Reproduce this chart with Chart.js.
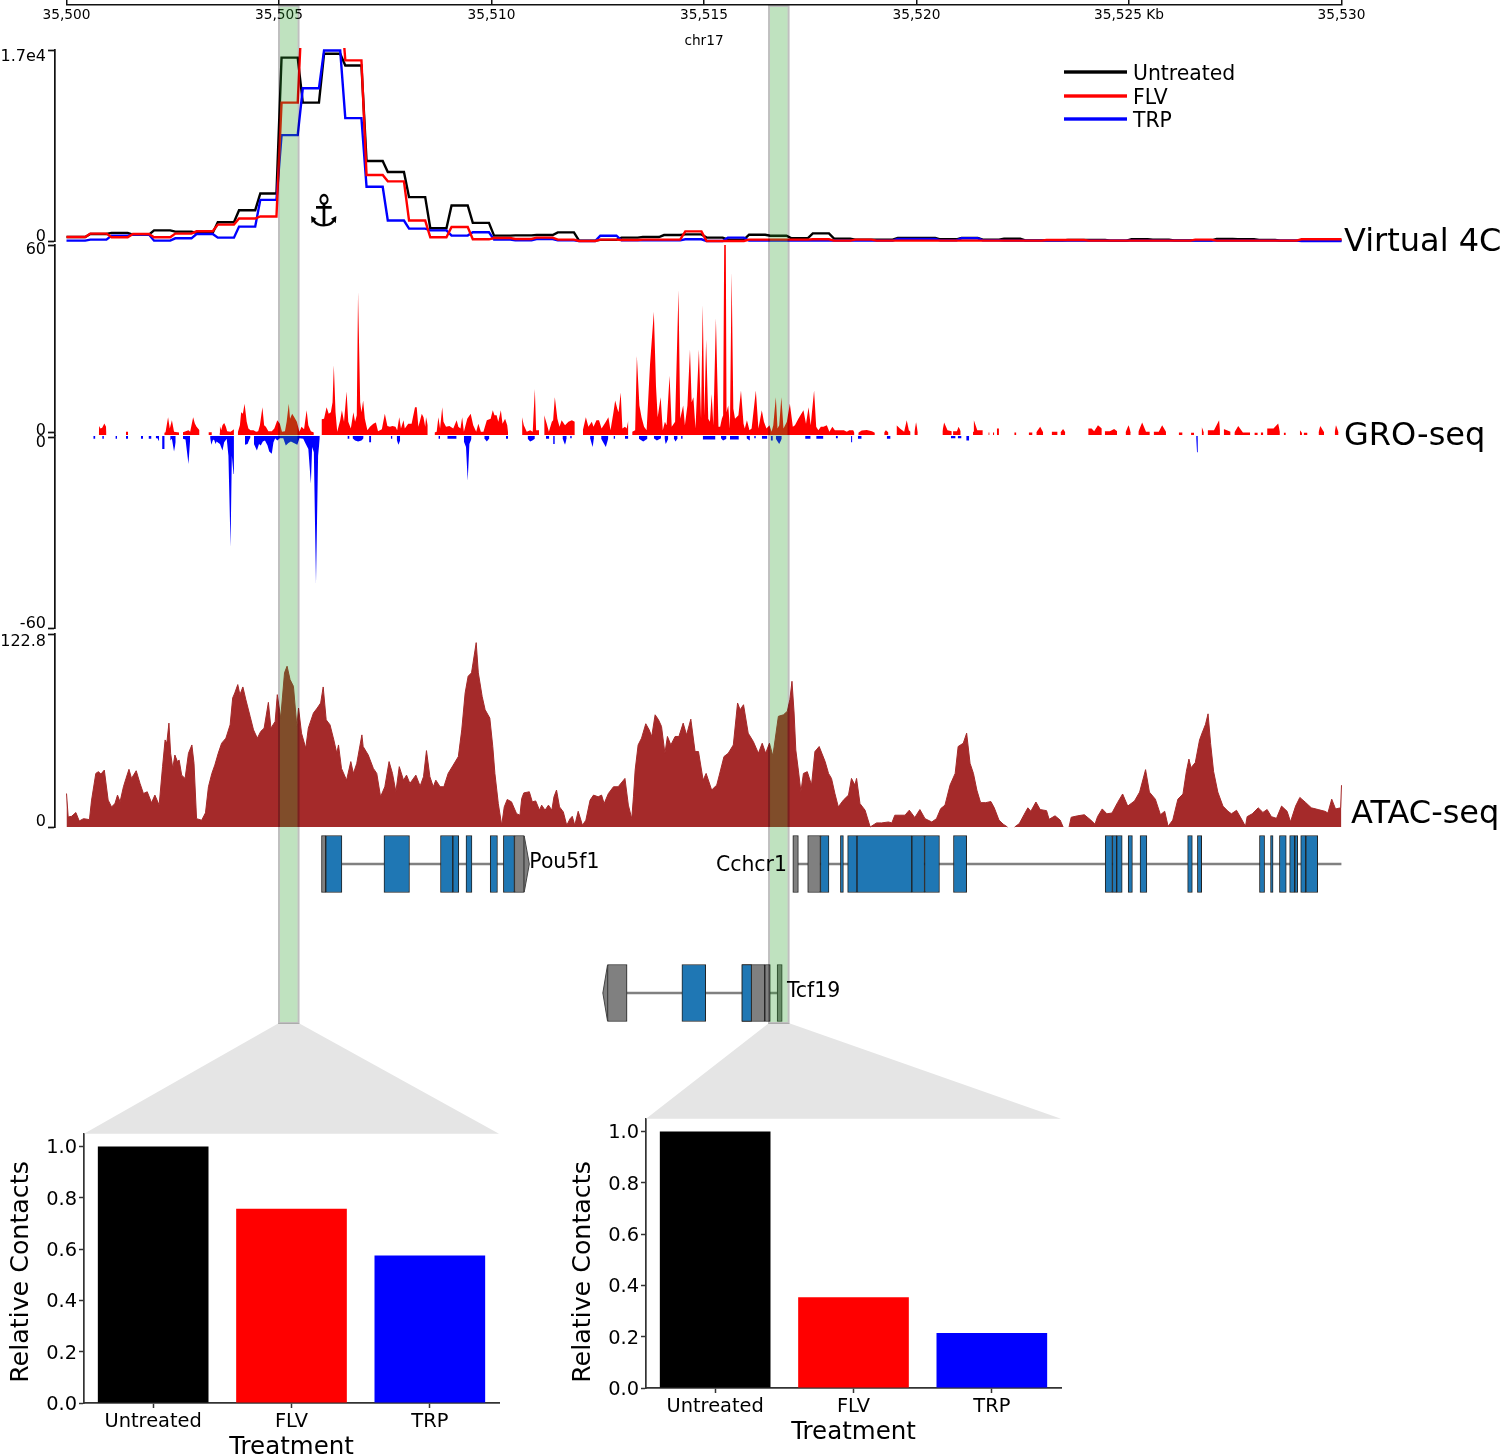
<!DOCTYPE html>
<html>
<head>
<meta charset="utf-8">
<title>Virtual 4C</title>
<script src="https://cdn.jsdelivr.net/npm/chart.js@4/dist/chart.umd.js"></script>
<style>
    body { margin: 0; background: #fff; }
    #fig { position: relative; width: 1500px; height: 1455px; overflow: hidden; }
    #fig canvas { position: absolute; }
</style>
</head>
<body>
<div id="fig"></div>
<script>
'use strict';

// x values below are kb past the start of the region
let regionStart = 35500;
let regionEnd = 30;
let binKb = 0.5;

let treatments = ['Untreated', 'FLV', 'TRP'];
let treatmentColors = ['#000000', '#ff0000', '#0000ff'];

// virtual 4C, one value per 0.5 kb bin
let v4cUntreated = [
    360, 620, 720, 570, 950, 835, 720, 1670, 2740, 4230,
    16320, 12320, 16660, 15620, 7120, 6140, 3905, 1130, 3160, 1610,
    480, 500, 530, 770, 30, 100, 300, 355, 530, 590,
    300, 120, 560, 470, 240, 680, 210, 120, 120, 270,
    270, 150, 270, 120, 200, 60, 60, 90, 90, 30,
    150, 120, 60, 60, 180, 150, 100, 30, 60, 60
];
let v4cFlv = [
    360, 660, 330, 620, 330, 660, 865, 1460, 2000, 2180,
    12320, 22000, 22000, 16080, 5870, 5310, 1820, 330, 1250, 150,
    270, 180, 300, 120, 0, 120, 90, 120, 120, 860,
    0, 0, 120, 120, 120, 150, 30, 120, 30, 30,
    30, 30, 30, 30, 30, 30, 90, 90, 30, 30,
    30, 30, 30, 120, 30, 30, 30, 30, 150, 150
];
let v4cTrp = [
    30, 120, 480, 570, 30, 240, 620, 300, 1280, 3660,
    9420, 13590, 16960, 10940, 4830, 1820, 1100, 950, 480, 780,
    120, 60, 180, 60, 0, 470, 60, 60, 60, 150,
    0, 300, 30, 30, 30, 30, 30, 30, 30, 180,
    180, 60, 240, 60, 30, 30, 30, 30, 30, 30,
    30, 30, 30, 30, 30, 30, 30, 30, 0, 0
];

// GRO-seq plus strand, [kb, signal], null starts a gap
let groPlus = [
    [.76, 0], [.77, 2.2], [.80, 1.4], [.84, 1.6], [.89, 3], [.93, 1.9], [.94, 0], [.95, null],
    [1.40, .3], [1.45, .3], [1.46, null],
    [2.30, 0], [2.33, .2], [2.39, 5], [2.43, 1.4], [2.48, 4], [2.53, .3], [2.65, .1], [2.66, null],
    [2.74, .2], [2.87, .8], [2.91, .3], [2.98, 5], [3.02, 3], [3.06, 1.9], [3.13, .8], [3.14, null],
    [3.34, .2], [3.42, .2], [3.43, null],
    [3.60, 0], [3.61, 2.2], [3.64, .8], [3.67, 2.4], [3.71, 3.1], [3.75, 1.9], [3.78, .5], [3.86, .3], [3.91, .8], [3.94, 1.1], [3.95, null],
    [4.03, .1], [4.08, 2.4], [4.11, 6.6], [4.15, 6.1], [4.19, 9.3], [4.24, 3.5], [4.28, 1.4], [4.33, .8], [4.40, .8], [4.46, .3],
    [4.51, .5], [4.55, 2.4], [4.61, 8.2], [4.65, 2.4], [4.69, 1.9], [4.75, .5], [4.83, .5], [4.89, 1.4], [4.96, 4], [5.02, 2.9],
    [5.07, .3], [5.14, .5], [5.18, 3.5], [5.23, 9.3], [5.26, 4.5], [5.31, 6.1], [5.36, 5], [5.42, 3.5], [5.48, .3], [5.53, 1.9],
    [5.59, 1.1], [5.65, 7.2], [5.69, 2.4], [5.75, .5], [5.82, .1], [5.83, null],
    [6.00, 4.3], [6.06, 4.5], [6.12, 8.2], [6.17, 6.1], [6.22, 6.6], [6.26, 9.8], [6.29, 21.6], [6.33, 6.6], [6.37, .3], [6.44, 4],
    [6.48, 7.2], [6.53, 3.5], [6.59, 13.2], [6.63, 3.5], [6.69, 1.4], [6.75, 6.6], [6.79, 3.5], [6.83, 5.6], [6.86, 45], [6.91, 9.8],
    [6.94, 6.6], [6.98, 10.3], [7.02, 4.5], [7.08, .8], [7.14, 1.9], [7.22, 2.9], [7.28, 3.3], [7.33, .5], [7.42, 1.1], [7.49, 6.1],
    [7.55, 2.2], [7.61, 1.9], [7.67, 2.2], [7.74, 1.9], [7.78, .8], [7.83, 5], [7.87, 1.4], [7.93, 4], [7.96, 1.4], [8.04, 2.9],
    [8.12, 2.9], [8.20, 8.2], [8.24, 8.2], [8.28, 1.9], [8.36, 6.1], [8.40, 5], [8.44, 1.9], [8.46, 5], [8.50, 2.4], [8.51, null],
    [8.66, .1], [8.71, .3], [8.75, 5], [8.79, 1.4], [8.84, 8.2], [8.87, 3.5], [8.93, 1.9], [9.01, 2.2], [9.10, 1.4], [9.18, 4],
    [9.22, 1.9], [9.27, 1.4], [9.31, 5], [9.35, .3], [9.43, 4.5], [9.51, 6.1], [9.57, 2.4], [9.64, .3], [9.69, 2.9], [9.75, .3],
    [9.81, .3], [9.89, 4], [9.98, 4.5], [10.03, 7.2], [10.07, 5.6], [10.12, 5.6], [10.16, 3.5], [10.22, 7.2], [10.26, 2.9], [10.32, 4.5],
    [10.37, 2.4], [10.39, 0], [10.40, null],
    [10.72, 5], [10.76, 2.4], [10.83, .3], [10.91, .8], [10.97, .3], [11.02, 14], [11.05, .8], [11.12, .8], [11.13, null],
    [11.24, 5.6], [11.30, 2.9], [11.35, .3], [11.42, 3.5], [11.45, 4], [11.49, 11.4], [11.55, 4.5], [11.60, 1.9], [11.65, 4], [11.73, 2.4],
    [11.81, 3.5], [11.89, 4], [11.96, 3.5], [11.97, null],
    [12.15, .8], [12.22, 5], [12.28, 1.9], [12.36, 3.5], [12.40, 1.9], [12.47, 4], [12.53, 4], [12.59, 1.4], [12.69, 3.5], [12.75, 5],
    [12.80, .8], [12.87, 6.6], [12.91, 10.3], [12.96, 7.7], [12.99, 6.6], [13.04, 12.9], [13.08, 1.4], [13.14, 1.9], [13.18, 1.4], [13.22, 4], [13.23, null],
    [13.31, .3], [13.38, .8], [13.42, 24.5], [13.48, 8.7], [13.53, 5], [13.59, 1.9], [13.65, .8], [13.73, 21.9], [13.82, 38.7], [13.87, 15],
    [13.91, 5], [13.98, 11.4], [14.03, .8], [14.08, 3.5], [14.12, 2.4], [14.19, 18.2], [14.24, 1.9], [14.32, 3.5], [14.40, 45.6], [14.44, 4.5],
    [14.51, 8.7], [14.55, 2.4], [14.61, 8.7], [14.67, 26.6], [14.71, 9.8], [14.75, 11.4], [14.80, 1.4], [14.88, 26.6], [14.93, 4.5], [14.97, 40.8],
    [15.01, 5.6], [15.05, 29.8], [15.10, 4.5], [15.14, 3.5], [15.18, 12.4], [15.22, 2.4], [15.28, 36.6], [15.34, 1.9], [15.38, 1.9], [15.42, 4.5],
    [15.45, 5.6], [15.48, 70], [15.51, 70], [15.53, 6.6], [15.57, 8.7], [15.61, 1.4], [15.65, 51.4], [15.69, 7.7], [15.73, 4.5], [15.81, 5.6],
    [15.87, 13.5], [15.93, 2.9], [15.96, 1.4], [16.01, 4], [16.07, .8], [16.12, 1.4], [16.22, 13.5], [16.28, 1.4], [16.36, 7.2], [16.41, 3.5],
    [16.47, 1.4], [16.54, 2.4], [16.59, .3], [16.63, 2.4], [16.69, 11.4], [16.73, 1.4], [16.77, 2.4], [16.82, 11.4], [16.87, 1.4], [16.95, 3.5],
    [17.02, 9.3], [17.09, 1.9], [17.14, 2.4], [17.22, 4.5], [17.34, 7.2], [17.40, 2.9], [17.46, 8.2], [17.51, 2.4], [17.59, 13.5], [17.64, 1.9],
    [17.69, .8], [17.75, 1.9], [17.81, 1.9], [17.89, 2.4], [17.95, .3], [18.02, 1.9], [18.08, .8], [18.20, .8], [18.29, .8], [18.36, .3],
    [18.42, .8], [18.51, .8], [18.54, 0], [18.55, null],
    [18.63, 0], [18.71, .7], [18.83, .9], [18.95, .5], [19.02, 0], [19.03, null],
    [19.24, .1], [19.28, .8], [19.34, .1], [19.35, null],
    [19.53, 2.4], [19.61, 1.4], [19.71, .3], [19.77, 4], [19.82, .8], [19.86, .3], [19.87, null],
    [19.95, .2], [19.99, 3.4], [20.03, .2], [20.04, null],
    [20.61, .5], [20.65, 3.3], [20.73, .8], [20.83, .5], [20.84, null],
    [20.86, .5], [20.95, .5], [20.99, 1.9], [21.04, .5], [21.05, null],
    [21.33, .3], [21.35, 4], [21.43, .8], [21.56, .8], [21.57, null],
    [21.69, .1], [21.72, .1], [21.73, null], [21.80, .1], [21.83, .1], [21.84, null],
    [21.89, 1.4], [21.94, 1.4], [21.95, null],
    [22.30, .1], [22.35, .1], [22.36, null],
    [22.64, .1], [22.73, .1], [22.74, null],
    [22.82, .2], [22.91, 1.9], [22.98, .2], [22.99, null],
    [23.18, .3], [23.32, .3], [23.33, null],
    [23.39, .2], [23.45, 1.2], [23.50, .2], [23.51, null],
    [24.04, 1.4], [24.12, 1.4], [24.18, .5], [24.27, 2.4], [24.36, 1.4], [24.37, null],
    [24.43, .5], [24.55, .5], [24.65, 1.2], [24.72, .5], [24.73, null],
    [24.92, .2], [24.99, 2.4], [25.04, .2], [25.05, null],
    [25.22, .3], [25.31, 3.3], [25.40, .3], [25.49, .3], [25.50, null],
    [25.58, .3], [25.70, .3], [25.78, 2.4], [25.87, .3], [25.88, null],
    [26.17, .1], [26.26, .1], [26.27, null],
    [26.46, 0], [26.53, 0], [26.54, null],
    [26.71, 1.9], [26.76, .2], [26.77, null],
    [26.85, .8], [27.00, .8], [27.12, 4], [27.14, .8], [27.15, null],
    [27.23, 1.2], [27.39, .3], [27.40, null],
    [27.48, .1], [27.57, 2.2], [27.68, .1], [27.85, .1], [27.86, null],
    [27.95, 0], [28.03, 0], [28.04, null],
    [28.10, .1], [28.16, .1], [28.17, null],
    [28.25, 1.4], [28.40, 1.4], [28.51, 3], [28.55, .3], [28.56, null],
    [28.64, 0], [28.69, 0], [28.70, null],
    [29.02, .8], [29.07, 0], [29.08, null],
    [29.11, 0], [29.20, 0], [29.21, null],
    [29.46, .2], [29.50, 2.2], [29.59, .2], [29.60, null],
    [29.84, .2], [29.87, 2.4], [29.93, .2]
];

// GRO-seq minus strand
let groMinus = [
    [.63, -.3], [.68, -.3], [.69, null],
    [.84, -.3], [.88, -.3], [.89, null],
    [1.15, -.3], [1.19, -.3], [1.20, null],
    [1.40, -.3], [1.45, -.3], [1.46, null],
    [1.75, -.3], [1.80, -.3], [1.81, null],
    [1.93, -.3], [2.00, -.3], [2.01, null],
    [2.10, -.1], [2.14, -.1], [2.18, -1.1], [2.19, null],
    [2.25, -3.5], [2.31, -3.5], [2.32, null],
    [2.44, -.8], [2.48, -.3], [2.53, -4.3], [2.57, -1.4], [2.58, null],
    [2.74, -.3], [2.80, -.5], [2.87, -8.2], [2.91, -.3], [2.92, null],
    [3.38, -.1], [3.41, -2.2], [3.44, -.8], [3.47, -.5], [3.51, -1.9], [3.53, -1.1], [3.61, -1.9], [3.67, -4], [3.71, -1.4], [3.77, -.3],
    [3.81, -5.6], [3.86, -34.5], [3.89, -5.6], [3.93, -11.4], [3.94, 0], [3.95, null],
    [4.20, -2.2], [4.26, -1.9], [4.31, -.3], [4.33, 0], [4.34, null],
    [4.41, -1.9], [4.48, -4], [4.53, -1.9], [4.57, -2.4], [4.62, -1.1], [4.67, -.8], [4.73, -2.4], [4.77, -4.3], [4.83, -5], [4.87, -1.4],
    [4.91, -.1], [4.96, -.8], [5.02, -.1], [5.10, -.1], [5.16, -2.4], [5.22, -1.6], [5.28, -1.1], [5.35, -1.6], [5.43, -2.2], [5.48, -.1],
    [5.57, -.3], [5.63, -1.9], [5.69, -3.5], [5.75, -14.5], [5.78, -2.9], [5.82, -4.5], [5.87, -46.1], [5.92, -5.6], [5.96, 0], [5.97, null],
    [6.61, -.3], [6.66, -.3], [6.67, null],
    [6.73, -.1], [6.79, -.8], [6.86, -1.1], [6.94, -.8], [6.99, -.1], [7.00, null],
    [7.12, -1.4], [7.17, -1.4], [7.18, null],
    [7.63, -.3], [7.67, -.3], [7.68, null],
    [7.77, -.5], [7.81, -2.2], [7.85, -.8], [7.86, null],
    [8.75, -.3], [8.79, -.3], [8.80, null],
    [8.96, -.3], [9.18, -.3], [9.19, null],
    [9.35, -1.1], [9.40, -2.9], [9.44, -13.5], [9.48, -1.9], [9.53, -.3], [9.54, null],
    [9.83, -.1], [9.89, -1.1], [9.95, -.1], [9.96, null],
    [10.34, -.3], [10.39, -.3], [10.40, null],
    [10.85, -.3], [10.91, -1.1], [10.96, -.8], [11.02, -.3], [11.03, null],
    [11.28, -.3], [11.36, -.3], [11.37, null],
    [11.45, -1.9], [11.49, -1.9], [11.50, null],
    [11.67, -.1], [11.73, -2.2], [11.77, -.1], [11.78, null],
    [11.85, -.1], [11.89, -.1], [11.90, null],
    [12.32, -.1], [12.38, -2.9], [12.41, -.1], [12.42, null],
    [12.58, -.3], [12.69, -2.9], [12.75, 0], [12.76, null],
    [12.87, -.3], [12.91, -.3], [12.92, null],
    [13.14, -.3], [13.22, -.3], [13.23, null],
    [13.47, -.3], [13.57, -1.1], [13.67, -.3], [13.68, null],
    [13.82, -.1], [13.89, -.8], [13.99, -.1], [14.00, null],
    [14.07, -.1], [14.10, -1.9], [14.16, -.3], [14.17, null],
    [14.29, -.1], [14.33, -1.1], [14.38, -.1], [14.39, null],
    [14.46, -.3], [14.50, -.3], [14.51, null],
    [14.97, -.5], [15.27, -.5], [15.28, null],
    [15.40, -.1], [15.45, -.8], [15.53, -.3], [15.54, null],
    [15.61, -.5], [15.82, -.5], [15.83, null],
    [16.00, -.1], [16.08, -.8], [16.09, null],
    [16.18, -.1], [16.22, -.1], [16.23, null],
    [16.36, -.3], [16.49, -.3], [16.50, null],
    [16.57, -.8], [16.62, -.8], [16.63, null],
    [16.69, -.3], [16.77, -1.9], [16.83, -.3], [16.84, null],
    [17.38, -.3], [17.51, -.3], [17.52, null],
    [17.64, -.3], [17.81, -.3], [17.82, null],
    [18.10, -.1], [18.15, -.1], [18.16, null],
    [18.46, -1.4], [18.49, -1.4], [18.50, null],
    [18.62, -.3], [18.71, -.3], [18.72, null],
    [19.30, -.3], [19.39, -.3], [19.40, null],
    [20.81, -.1], [20.92, -.1], [20.93, null],
    [20.97, -.1], [21.06, -.1], [21.07, null],
    [21.17, -.8], [21.24, -.8], [21.25, null],
    [26.58, -.1], [26.60, -4.5], [26.62, -.1]
];

// ATAC-seq
let atac = [
    [0, 21.3], [.04, 6.4], [.12, 6.8], [.22, 9.2], [.30, 3.8], [.40, 5.3], [.54, 4.7], [.59, 17.1], [.69, 34.1], [.75, 35.2],
    [.81, 33.7], [.89, 36.2], [.98, 17.1], [1.06, 12.8], [1.14, 14.9], [1.20, 20.3], [1.26, 16], [1.34, 25.6], [1.40, 30.9], [1.47, 36.7],
    [1.53, 30.9], [1.64, 35.8], [1.73, 27.7], [1.81, 21.3], [1.90, 22.4], [2.00, 15.4], [2.08, 20.3], [2.18, 13.9], [2.26, 38.4], [2.32, 55.4],
    [2.36, 53.3], [2.41, 66.1], [2.45, 46.9], [2.50, 37.3], [2.55, 45.8], [2.61, 41.6], [2.65, 42.6], [2.71, 33], [2.79, 30.9], [2.87, 46.9],
    [2.95, 52.2], [3.00, 40.5], [3.06, 5.3], [3.18, 4.3], [3.27, 9], [3.34, 25.6], [3.42, 34.1], [3.49, 39.4], [3.57, 46.9], [3.65, 53.3],
    [3.75, 56.5], [3.85, 65], [3.91, 82.1], [3.96, 85.3], [4.03, 90.6], [4.08, 84.2], [4.15, 89.1], [4.22, 81], [4.32, 70.4], [4.40, 61.8],
    [4.49, 56.5], [4.57, 60.8], [4.65, 62.9], [4.75, 79.3], [4.81, 62.9], [4.91, 67.2], [4.96, 84.2], [5.04, 69.3], [5.13, 98.1], [5.19, 102.3],
    [5.26, 93.8], [5.34, 89.5], [5.42, 64], [5.46, 75.7], [5.53, 59.7], [5.63, 50.1], [5.69, 62.9], [5.81, 72.5], [5.90, 75.7], [5.98, 78.9],
    [6.04, 89.1], [6.11, 68.2], [6.20, 65], [6.29, 55.4], [6.36, 46.9], [6.40, 52.2], [6.47, 37.3], [6.59, 29.8], [6.69, 41.6], [6.75, 34.1],
    [6.83, 40.5], [6.95, 58.6], [6.98, 51.2], [7.10, 45.8], [7.22, 37.3], [7.30, 34.1], [7.39, 19.2], [7.49, 25.6], [7.59, 41.6], [7.67, 34.1],
    [7.75, 22.4], [7.83, 38.4], [7.93, 29.8], [8.00, 33], [8.08, 27.7], [8.22, 33], [8.32, 26], [8.40, 32], [8.47, 48.6], [8.55, 32],
    [8.63, 25.6], [8.69, 29.8], [8.79, 25.6], [8.88, 25.6], [8.98, 34.1], [9.10, 39.4], [9.22, 44.8], [9.30, 61.8], [9.38, 85.3], [9.45, 95.9],
    [9.53, 98.1], [9.64, 117.3], [9.69, 98.1], [9.78, 83.1], [9.85, 74.6], [9.96, 69.3], [10.03, 51.2], [10.08, 34.1], [10.16, 14.9], [10.24, 1.1],
    [10.30, 12.8], [10.37, 17.5], [10.47, 16], [10.59, 8.5], [10.67, 7.5], [10.71, 18.1], [10.76, 21.7], [10.89, 22.4], [10.96, 16], [11.04, 16.6],
    [11.13, 10.7], [11.18, 13.9], [11.26, 10.7], [11.34, 13.9], [11.42, 10.7], [11.47, 19.2], [11.53, 23.5], [11.60, 12.8], [11.69, 9.6], [11.77, 1.1],
    [11.85, 5.3], [11.90, 6.8], [11.96, 1.1], [12.04, 10], [12.14, 1.1], [12.22, 4.3], [12.32, 17.1], [12.40, 20.3], [12.51, 19.2], [12.59, 20.3],
    [12.65, 14.9], [12.75, 21.3], [12.87, 25.6], [12.98, 25.6], [13.14, 30.9], [13.22, 13.9], [13.30, 5.3], [13.34, 19.2], [13.38, 36.2], [13.45, 52.2],
    [13.53, 56.5], [13.63, 65.7], [13.71, 61.8], [13.77, 57.6], [13.85, 71.4], [13.93, 68.2], [14.00, 64], [14.08, 46.9], [14.14, 57.6], [14.22, 52.2],
    [14.32, 57.6], [14.41, 57.6], [14.51, 66.1], [14.59, 58.6], [14.69, 68.6], [14.79, 48], [14.87, 48], [14.98, 29.8], [15.05, 34.1], [15.18, 23.5],
    [15.30, 26.7], [15.36, 33], [15.47, 44.8], [15.57, 46.9], [15.69, 52.2], [15.79, 78.9], [15.85, 74.6], [15.93, 77.8], [16.04, 59.7], [16.16, 54.4],
    [16.28, 46.9], [16.37, 53.3], [16.45, 46.9], [16.54, 53.3], [16.62, 45.2], [16.75, 70.4], [16.87, 71.4], [16.96, 73.6], [17.02, 81], [17.07, 92.7],
    [17.12, 72.5], [17.16, 49], [17.22, 36.2], [17.28, 22.4], [17.34, 34.1], [17.43, 35.2], [17.53, 26.7], [17.61, 48], [17.71, 51.2], [17.85, 41.6],
    [17.93, 34.1], [18.00, 30.9], [18.08, 21.3], [18.16, 12.8], [18.28, 17.1], [18.40, 20.3], [18.47, 30.9], [18.55, 26.7], [18.59, 30.9], [18.67, 14.9],
    [18.79, 10.7], [18.91, 0], [19.06, 2.6], [19.18, 2.6], [19.34, 3.2], [19.42, 2.6], [19.49, 7.5], [19.61, 7.5], [19.73, 7.5], [19.83, 10.7],
    [19.96, 6], [20.08, 11.1], [20.20, 5.3], [20.36, 3.2], [20.47, 5.3], [20.57, 11.7], [20.67, 13.9], [20.79, 26.7], [20.91, 34.1], [20.98, 51.2],
    [21.10, 53.3], [21.18, 59.7], [21.26, 40.5], [21.34, 34.1], [21.42, 23.5], [21.49, 17.1], [21.51, 15.5], [21.63, 15.5], [21.75, 16.2], [21.83, 12.2],
    [21.94, 4.4], [22.04, 1.8], [22.14, 0], [22.15, null],
    [22.31, 0], [22.42, 2.2], [22.53, 7.8], [22.62, 12.2], [22.69, 10], [22.81, 15.9], [22.91, 11.1], [23.06, 10.4], [23.12, 4.9], [23.26, 7.1],
    [23.38, 4.4], [23.45, 0], [23.46, null],
    [23.59, 0], [23.64, 6.2], [23.79, 7.1], [23.95, 7.8], [24.10, 4.4], [24.20, 1.8], [24.26, 6.6], [24.37, 11.5], [24.48, 8.4], [24.60, 8.9],
    [24.73, 15.5], [24.85, 21], [24.97, 13.3], [25.13, 16.6], [25.25, 22.2], [25.39, 36.5], [25.48, 22.2], [25.62, 17.7], [25.74, 7.8], [25.84, 10],
    [25.92, .4], [26.03, 4.4], [26.15, 17.7], [26.27, 21], [26.35, 35.4], [26.41, 43.2], [26.46, 37.7], [26.56, 41], [26.66, 55.4], [26.72, 59.8],
    [26.80, 65.3], [26.86, 72], [26.92, 53.2], [26.99, 35.4], [27.09, 22.2], [27.21, 13.3], [27.33, 10], [27.41, 8.4], [27.53, 10.6], [27.66, 4.4],
    [27.74, .4], [27.78, 6.6], [27.90, 8.4], [28.04, 12.2], [28.15, 9.3], [28.25, 11.1], [28.35, 6.6], [28.47, 5.5], [28.59, 13.3], [28.72, 10],
    [28.80, 3.3], [28.92, 13.3], [29.02, 18.8], [29.16, 15.5], [29.29, 12.2], [29.45, 11.1], [29.61, 10], [29.68, 8.9], [29.77, 17.7], [29.86, 11.5],
    [29.98, 12.2], [30, 26.6]
];

// gene models, [start, end] in kb
let geneRows = ['Pou5f1', 'Tcf19'];
let geneIntrons = [
    { y: 'Pou5f1', x: [6.48, 10.28] },
    { y: 'Tcf19', x: [13.19, 16.72] },
    { y: 'Pou5f1', x: [17.22, 30] }
];
let geneCoding = [
    { y: 'Pou5f1', x: [6.10, 6.48] }, { y: 'Pou5f1', x: [7.47, 8.07] }, { y: 'Pou5f1', x: [8.80, 9.09] },
    { y: 'Pou5f1', x: [9.09, 9.23] }, { y: 'Pou5f1', x: [9.40, 9.54] }, { y: 'Pou5f1', x: [9.97, 10.14] },
    { y: 'Pou5f1', x: [10.28, 10.54] },
    { y: 'Tcf19', x: [14.48, 15.04] }, { y: 'Tcf19', x: [15.89, 16.12] },
    { y: 'Pou5f1', x: [17.74, 17.94] }, { y: 'Pou5f1', x: [18.21, 18.28] }, { y: 'Pou5f1', x: [18.38, 18.60] },
    { y: 'Pou5f1', x: [18.60, 19.89] }, { y: 'Pou5f1', x: [19.89, 20.19] }, { y: 'Pou5f1', x: [20.19, 20.54] },
    { y: 'Pou5f1', x: [20.87, 21.18] }, { y: 'Pou5f1', x: [24.44, 24.61] }, { y: 'Pou5f1', x: [24.61, 24.71] },
    { y: 'Pou5f1', x: [24.71, 24.84] }, { y: 'Pou5f1', x: [24.98, 25.08] }, { y: 'Pou5f1', x: [25.26, 25.42] },
    { y: 'Pou5f1', x: [26.38, 26.49] }, { y: 'Pou5f1', x: [26.61, 26.71] }, { y: 'Pou5f1', x: [28.07, 28.19] },
    { y: 'Pou5f1', x: [28.33, 28.39] }, { y: 'Pou5f1', x: [28.54, 28.70] }, { y: 'Pou5f1', x: [28.78, 28.90] },
    { y: 'Pou5f1', x: [28.90, 28.97] }, { y: 'Pou5f1', x: [29.04, 29.16] }, { y: 'Pou5f1', x: [29.16, 29.44] }
];
let geneUtr = [
    { y: 'Pou5f1', x: [6.00, 6.10] }, { y: 'Pou5f1', x: [10.54, 10.77] },
    { y: 'Tcf19', x: [12.73, 13.19] }, { y: 'Tcf19', x: [15.89, 16.43] }, { y: 'Tcf19', x: [16.43, 16.56] }, { y: 'Tcf19', x: [16.72, 16.84] },
    { y: 'Pou5f1', x: [17.09, 17.22] }, { y: 'Pou5f1', x: [17.44, 17.74] }
];
// [row, base kb, point kb]
let geneTips = [['Pou5f1', 10.77, 10.89], ['Tcf19', 12.73, 12.62]];
// [name, kb, align, y on the page]
let geneNames = [['Pou5f1', 10.89, 'left', 863], ['Cchcr1', 16.95, 'right', 866], ['Tcf19', 16.95, 'left', 992]];

// highlighted windows, kb
let highlights = [[5.0, 5.46], [16.53, 16.99]];

// zoomed bars under each highlight
let contacts1 = [1.0, 0.757, 0.575];
let contacts2 = [1.0, 0.354, 0.214];
let contactTicks = [0, 0.2, 0.4, 0.6, 0.8, 1.0];

Chart.defaults.font.family = '"DejaVu Sans"';
Chart.defaults.color = '#000';
Chart.defaults.animation = false;
Chart.defaults.plugins.legend.display = false;
Chart.defaults.plugins.tooltip.enabled = false;

let fig = document.getElementById('fig');
let plotRight = 158.5;
let spineLeft = -11.5 / 42.5;
let axisColor = '#111';

function addCanvas(left, top, width, height) {
    let c = document.createElement('canvas');
    c.width = width;
    c.height = height;
    c.style.left = left + 'px';
    c.style.top = top + 'px';
    fig.appendChild(c);
    return c;
}

// flat top per bin with a short ramp between bins, first and last run to the region edge
function binPoints(values) {
    let pts = [];
    for (let i = 0; i < values.length; i++) {
        pts.push({ x: i === 0 ? 0 : i * binKb + 0.06, y: values[i] });
        pts.push({ x: i === values.length - 1 ? regionEnd : i * binKb + 0.44, y: values[i] });
    }
    return pts;
}

// pyGenomeTracks puts its labels inside the tick pair
let nudgeLabels = {
    id: 'nudgeLabels',
    beforeDraw(chart, args, opts) {
        let scale = chart.scales.y;
        if (!opts.shift || scale._nudged) return;
        let top = Math.max(...scale.ticks.map(t => t.value));
        scale.getLabelItems().forEach((item, i) => {
            item.options.translation[1] += scale.ticks[i].value === top ? opts.shift[0] : opts.shift[1];
        });
        scale._nudged = true;
    }
};

function track(top, bottom, min, max, tickVals, tickText, shift, datasets) {
    let pad = 20;
    let canvas = addCanvas(0, top - pad, 1500, bottom - top + pad * 2);
    return new Chart(canvas, {
        type: 'line',
        data: { datasets: datasets },
        plugins: [nudgeLabels],
        options: {
            responsive: false,
            layout: { padding: { left: 0, right: plotRight, top: pad, bottom: pad } },
            plugins: { nudgeLabels: { shift: shift } },
            elements: { point: { radius: 0 }, line: { tension: 0 } },
            scales: {
                x: { type: 'linear', display: false, min: spineLeft, max: regionEnd },
                y: {
                    min: min,
                    max: max,
                    afterFit(scale) { scale.width = 55; },
                    afterBuildTicks(scale) { scale.ticks = tickVals.map(v => ({ value: v })); },
                    border: { color: axisColor, width: 1.7 },
                    grid: { drawOnChartArea: false, tickLength: 7, tickColor: axisColor, tickWidth: 1.7 },
                    ticks: {
                        padding: 2,
                        font: { size: 16 },
                        callback(v) { return tickText[tickVals.indexOf(v)]; }
                    }
                }
            }
        }
    });
}

// top genome axis
new Chart(addCanvas(0, 0, 1500, 60), {
    type: 'line',
    data: { datasets: [] },
    options: {
        responsive: false,
        layout: { padding: { left: 66.5, right: plotRight, top: 0, bottom: 0 } },
        scales: {
            y: { display: false },
            x: {
                type: 'linear',
                min: 0,
                max: regionEnd,
                afterFit(scale) { scale.height = 55.3; },
                border: { color: axisColor, width: 1.5 },
                grid: { color: axisColor, lineWidth: 1.5, drawTicks: false },
                title: { display: true, text: 'chr17', font: { size: 13.7 }, padding: { top: 0, bottom: 10.8 } },
                ticks: {
                    stepSize: 5,
                    maxRotation: 0,
                    padding: 3,
                    font: { size: 13.7 },
                    callback(v) {
                        let label = (regionStart + v).toLocaleString('en-US');
                        return v === 25 ? label + ' Kb' : label;
                    }
                }
            }
        }
    }
});

function v4cLine(values, i, order) {
    return {
        label: treatments[i],
        data: binPoints(values),
        borderColor: treatmentColors[i],
        borderWidth: 2.4,
        order: order,
        clip: { left: 0, top: 2, right: 2, bottom: 2 }
    };
}

track(50, 241.3, 0, 17000, [0, 17000], ['0', '1.7e4'], [6.5, -4.5], [
    v4cLine(v4cUntreated, 0, 3),
    v4cLine(v4cFlv, 1, 1),
    v4cLine(v4cTrp, 2, 2)
]);

track(245, 435.6, -0.7, 60, [0, 60], ['0', '60'], [4.5, -2], [{
    data: groPlus,
    borderWidth: 0,
    backgroundColor: '#ff0000',
    fill: { value: -0.7 },
    clip: { left: 0, top: 4, right: 0, bottom: 0 }
}]);

track(436, 628, -60, 0.6, [-60, 0], ['-60', '0'], [4.5, -4.5], [{
    data: groMinus,
    borderWidth: 0,
    backgroundColor: '#0000ff',
    fill: { value: 0.6 }
}]);

track(634, 827.3, 0, 122.8, [0, 122.8], ['0', '122.8'], [7.5, -5.5], [{
    data: atac,
    borderWidth: 1,
    borderColor: '#a52a2a',
    backgroundColor: '#a52a2a',
    fill: 'origin',
    clip: { left: 0, top: 0, right: 1, bottom: 1 }
}]);

// arrow ends of the first exon / last exon
let geneArrows = {
    id: 'geneArrows',
    afterDatasetsDraw(chart) {
        let ctx = chart.ctx;
        ctx.save();
        geneTips.forEach(tip => {
            let mid = chart.scales.y.getPixelForValue(geneRows.indexOf(tip[0]));
            let base = chart.scales.x.getPixelForValue(tip[1]);
            let point = chart.scales.x.getPixelForValue(tip[2]);
            ctx.beginPath();
            ctx.moveTo(base, mid - 28);
            ctx.lineTo(point, mid);
            ctx.lineTo(base, mid + 28);
            ctx.closePath();
            ctx.fillStyle = '#808080';
            ctx.fill();
            ctx.strokeStyle = '#444';
            ctx.lineWidth = 1;
            ctx.stroke();
        });
        ctx.restore();
    }
};

function exonSet(data, color, order) {
    return {
        data: data,
        backgroundColor: color,
        borderColor: '#222',
        borderWidth: 1,
        borderSkipped: false,
        barThickness: 57,
        grouped: false,
        order: order
    };
}

new Chart(addCanvas(0, 780, 1500, 300), {
    type: 'bar',
    data: {
        labels: geneRows,
        datasets: [
            { data: geneIntrons, backgroundColor: '#808080', barThickness: 2, grouped: false, order: 3 },
            exonSet(geneUtr, '#808080', 2),
            exonSet(geneCoding, '#1f77b4', 1)
        ]
    },
    plugins: [geneArrows],
    options: {
        responsive: false,
        indexAxis: 'y',
        layout: { padding: { left: 55, right: plotRight, top: 19.5, bottom: 22.5 } },
        scales: {
            x: { type: 'linear', display: false, min: spineLeft, max: regionEnd },
            y: { display: false }
        }
    }
});

function contactChart(left, top, values) {
    let width = 521;
    return new Chart(addCanvas(left, top, width, 350), {
        type: 'bar',
        data: {
            labels: treatments,
            datasets: [{
                data: values,
                backgroundColor: treatmentColors,
                barPercentage: 0.8,
                categoryPercentage: 1
            }]
        },
        options: {
            responsive: false,
            layout: { padding: { left: 0, right: 22, top: 13, bottom: 0 } },
            scales: {
                x: {
                    afterFit(scale) { scale.height = 67; },
                    border: { color: '#333', width: 1.7 },
                    grid: { offset: false, drawOnChartArea: false, tickLength: 5, tickColor: '#333', tickWidth: 1.5 },
                    title: { display: true, text: 'Treatment', font: { size: 24.5 }, padding: { top: 0, bottom: 7.3 } },
                    ticks: { font: { size: 19.4 }, padding: 2, maxRotation: 0 }
                },
                y: {
                    min: 0,
                    max: 1.05,
                    afterFit(scale) { scale.width = 84; },
                    afterBuildTicks(scale) { scale.ticks = contactTicks.map(v => ({ value: v })); },
                    border: { color: '#333', width: 1.7 },
                    grid: { drawOnChartArea: false, tickLength: 5, tickColor: '#333', tickWidth: 1.5 },
                    ticks: { font: { size: 19.4 }, padding: 2, labelOffset: 2, callback(v) { return v.toFixed(1); } }
                }
            }
        }
    });
}

let barsLeft = contactChart(0, 1120, contacts1);
let barsRight = contactChart(562, 1105, contacts2);

// top layer: highlights, zoom wedges and free text, in page pixels
let annotations = {
    id: 'annotations',
    afterDraw(chart) {
        let ctx = chart.ctx;
        let x = chart.scales.x;
        let bandTop = 6;
        let bandBottom = 1023;
        let wedges = [barsLeft, barsRight];
        ctx.save();

        highlights.forEach((band, i) => {
            let a = x.getPixelForValue(band[0]);
            let b = x.getPixelForValue(band[1]);
            let bars = wedges[i];
            let offset = parseFloat(bars.canvas.style.left);
            let base = parseFloat(bars.canvas.style.top) + bars.chartArea.top;
            ctx.beginPath();
            ctx.moveTo(a, bandBottom);
            ctx.lineTo(b, bandBottom);
            ctx.lineTo(offset + bars.chartArea.right, base);
            ctx.lineTo(offset + bars.chartArea.left, base);
            ctx.closePath();
            ctx.fillStyle = '#e5e5e5';
            ctx.fill();

            ctx.fillStyle = 'rgba(44,160,44,0.3)';
            ctx.fillRect(a + 1, bandTop + 1, b - a - 2, bandBottom - bandTop - 2);
            ctx.strokeStyle = 'rgba(0,0,0,0.25)';
            ctx.lineWidth = 2;
            ctx.strokeRect(a, bandTop, b - a, bandBottom - bandTop);
        });

        ctx.fillStyle = '#000';
        ctx.textBaseline = 'middle';
        ctx.textAlign = 'left';

        ctx.font = '32px "DejaVu Sans"';
        ctx.fillText('Virtual 4C', 1344, 243);
        ctx.fillText('GRO-seq', 1344, 437);
        ctx.fillText('ATAC-seq', 1351, 815);

        ctx.font = '20.4px "DejaVu Sans"';
        geneNames.forEach(g => {
            ctx.textAlign = g[2];
            ctx.fillText(g[0], x.getPixelForValue(g[1]), g[3]);
        });

        ctx.textAlign = 'left';
        treatments.forEach((name, i) => {
            let y = [72, 96, 119][i];
            ctx.fillStyle = treatmentColors[i];
            ctx.fillRect(1064, y - 1.7, 63, 3.4);
            ctx.fillStyle = '#000';
            ctx.fillText(name, 1133, y + 3);
        });

        ctx.font = '25.3px "DejaVu Sans"';
        ctx.textAlign = 'center';
        [21.5, 583.5].forEach(tx => {
            ctx.save();
            ctx.translate(tx, 1272);
            ctx.rotate(-Math.PI / 2);
            ctx.fillText('Relative Contacts', 0, 0);
            ctx.restore();
        });

        ctx.font = '36px "DejaVu Sans"';
        ctx.translate(324, 215);
        ctx.scale(1, 1.22);
        ctx.fillText('\u2693', 0, 0);
        ctx.restore();
    }
};

new Chart(addCanvas(0, 0, 1500, 1455), {
    type: 'line',
    data: { datasets: [] },
    plugins: [annotations],
    options: {
        responsive: false,
        layout: { padding: { left: 55, right: plotRight, top: 0, bottom: 0 } },
        scales: {
            x: { type: 'linear', display: false, min: spineLeft, max: regionEnd },
            y: { display: false }
        }
    }
});
</script>
</body>
</html>
